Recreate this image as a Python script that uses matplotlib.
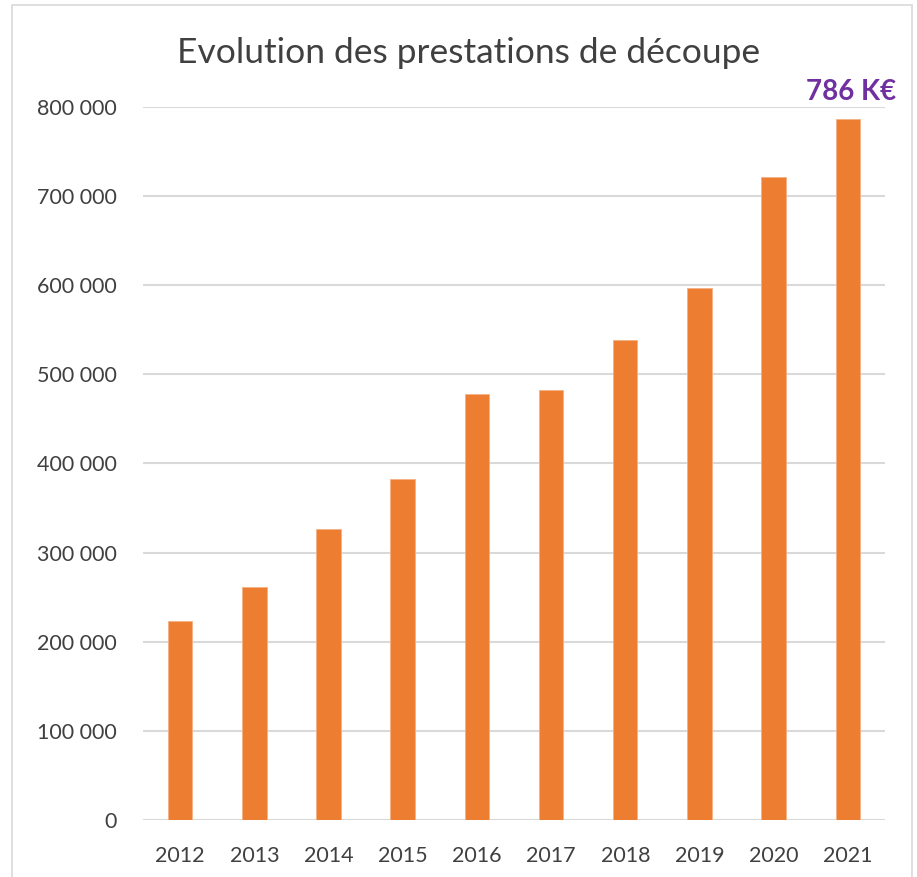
import matplotlib.pyplot as plt
from matplotlib.patches import Rectangle

years = ["2012", "2013", "2014", "2015", "2016", "2017", "2018", "2019", "2020", "2021"]
values = [223000, 261000, 327000, 383000, 478000, 483000, 539000, 597000, 722000, 786000]
yticks = [0, 100000, 200000, 300000, 400000, 500000, 600000, 700000, 800000]
ytick_labels = ["0", "100 000", "200 000", "300 000", "400 000", "500 000",
                "600 000", "700 000", "800 000"]

plt.rcParams['font.family'] = ['Lato', 'DejaVu Sans']

fig = plt.figure(figsize=(9.17, 8.77), dpi=100)
ax = fig.add_axes([0.156, 0.065, 0.809, 0.813])

x = list(range(len(years)))
ax.bar(x, values, width=0.33, color="#ED7D31", edgecolor="#F4B183", linewidth=0.6, zorder=3)

ax.set_xlim(-0.5, len(years) - 0.5)
ax.set_ylim(0, 800000)
ax.set_yticks(yticks)
ax.set_yticklabels(ytick_labels)
ax.set_xticks(x)
ax.set_xticklabels(years)
ax.tick_params(length=0, labelsize=15.5, colors="#404040")
ax.tick_params(axis="y", pad=19)
ax.tick_params(axis="x", pad=19)
ax.grid(axis="y", color="#D9D9D9", linewidth=1.5, zorder=0)
for s in ax.spines.values():
    s.set_visible(False)

fig.text(0.511, 0.94, "Evolution des prestations de découpe", ha="center", va="center",
         fontsize=25.5, color="#404040")
ax.text(x[-1] + 0.05, values[-1] + 16000, "786 K€", ha="center", va="bottom", fontsize=20,
        fontweight="bold", color="#7030A0", clip_on=False)

# light frame around the chart area
fig.patches.append(Rectangle((12 / 917, -0.05), 900 / 917, 1.05 - 5 / 877, transform=fig.transFigure,
                             fill=False, edgecolor="#D9D9D9", linewidth=1.2))

fig.savefig("out.png", dpi=100, facecolor="white")
